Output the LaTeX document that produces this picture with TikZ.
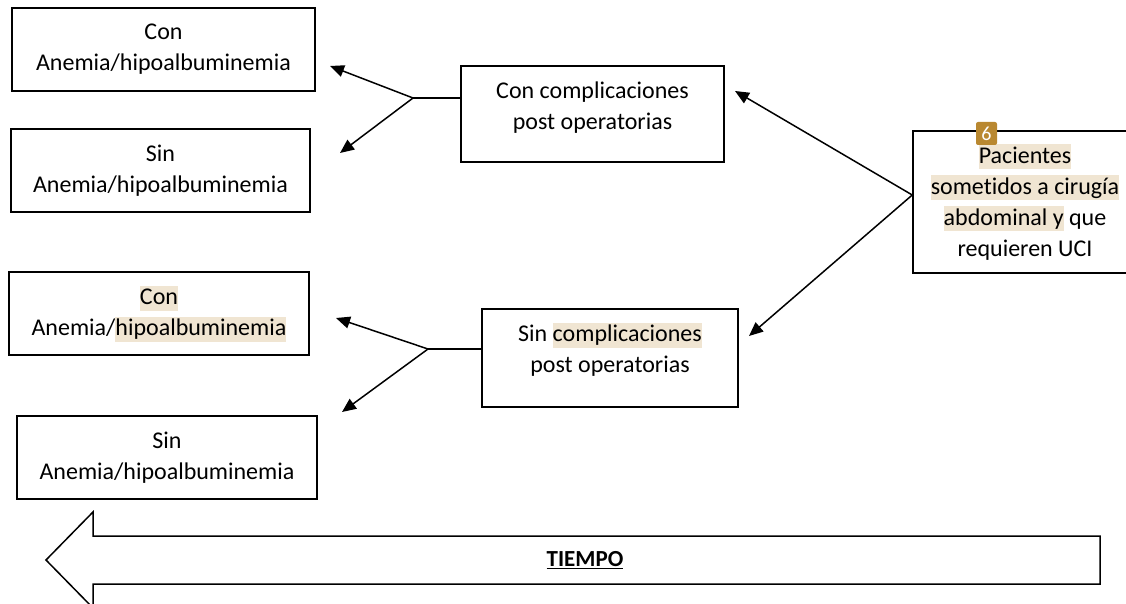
\documentclass[tikz,border=0pt]{standalone}
\usepackage{fontspec}
\setmainfont[RawFeature={-liga;-clig;-calt;-dlig}]{Carlito}
\usetikzlibrary{arrows.meta}

\definecolor{hlbeige}{RGB}{240,229,210}
\definecolor{badgegold}{RGB}{185,136,48}
\newcommand{\hl}[1]{{\setlength{\fboxsep}{0pt}\colorbox{hlbeige}{\rule[-6pt]{0pt}{25pt}#1}}}

\tikzset{
  box/.style={rectangle, draw=black, line width=1.5pt, align=center, font=\fontsize{24}{31}\selectfont},
  branch/.style={line width=1.5pt, -{Triangle[length=14pt,width=12pt]}},
  stem/.style={line width=1.5pt},
}

\begin{document}
\begin{tikzpicture}[x=1pt,y=-1pt]
	\pgfmathsetmacro{\xleft}{163}
	\pgfmathsetmacro{\xmid}{600}
	\useasboundingbox (0,0) rectangle (1126,604);

	%Boxes on the left
	\node[box, minimum width=303pt, minimum height=83pt] (conA) at (\xleft.5,49.5) {Con\\Anemia/hipoalbuminemia};
	\node[box, minimum width=299pt, minimum height=83pt] (sinA) at (\xleft-2.5,170.5) {Sin\\Anemia/hipoalbuminemia};
	\node[box, minimum width=300pt, minimum height=83pt] (conB) at (\xleft-4,313.5) {\hl{Con}\\Anemia/\hl{hipoalbuminemia}};
	\node[box, minimum width=300pt, minimum height=83pt] (sinB) at (\xleft+4,457.5) {Sin\\Anemia/hipoalbuminemia};

	%Boxes in the middle
	\node[box, minimum width=263pt, minimum height=96pt, text depth=16pt] (conpost) at (\xmid-7.5,114) {Con complicaciones\\post operatorias};
	\node[box, minimum width=256pt, minimum height=98pt, text depth=21pt] (sinpost) at (\xmid+10,358) {Sin \hl{complicaciones}\\post operatorias};

	%Box on the right, cut by the page
	\node[box, minimum width=224pt, minimum height=142pt] (pac) at (1025,202) {\hl{Pacientes}\\\hl{sometidos a cirugía}\\\hl{abdominal y} que\\requieren UCI};
	\node[fill=badgegold, rounded corners=2pt, text=white, minimum width=21pt, minimum height=23pt, inner sep=0pt, font=\fontsize{20}{20}\selectfont] (badge) at (986.5,133.5) {6};

	%Branch points and arrow ends
	\coordinate (jcon) at (413,98);
	\coordinate (jsin) at (428,349);
	\coordinate (tipconA) at (330,66);
	\coordinate (tipsinA) at (340,153);
	\coordinate (tipconB) at (336,318);
	\coordinate (tipsinB) at (342,412);
	\coordinate (tipconpost) at (735,91);
	\coordinate (tipsinpost) at (749,336);

	\draw[stem] (conpost.west |- jcon) -- (jcon);
	\draw[branch] (jcon) -- (tipconA);
	\draw[branch] (jcon) -- (tipsinA);

	\draw[stem] (sinpost.west |- jsin) -- (jsin);
	\draw[branch] (jsin) -- (tipconB);
	\draw[branch] (jsin) -- (tipsinB);

	\draw[branch] ([yshift=7pt]pac.west) -- (tipconpost);
	\draw[branch] ([yshift=7pt]pac.west) -- (tipsinpost);

	%Time arrow
	\draw[line width=1.5pt] (1100,536) -- (93,536) -- (93,512) -- (46,560) -- (93,608) -- (93,584) -- (1100,584) -- cycle;
	\node[font=\bfseries\fontsize{23}{26}\selectfont] (tiempo) at (585,560) {\underline{TIEMPO}};
\end{tikzpicture}
\end{document}
